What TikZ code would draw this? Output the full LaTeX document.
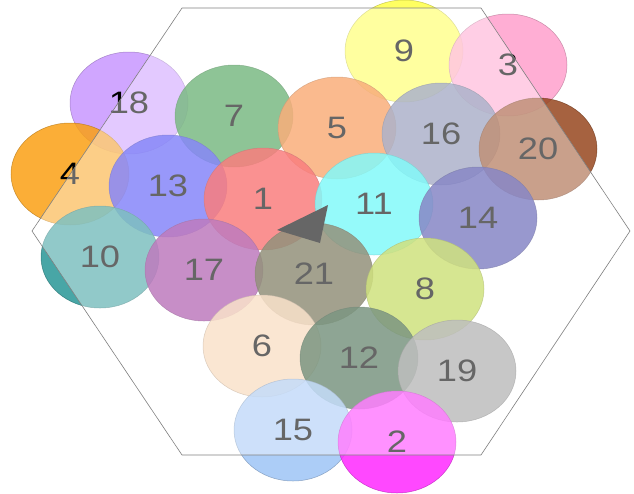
\documentclass[tikz,border=0pt]{standalone}
\usepackage{fontspec}
\setmainfont{Liberation Sans}
\usetikzlibrary{shapes.geometric}

\definecolor{col1}{RGB}{246,40,40}
\definecolor{col2}{RGB}{255,40,255}
\definecolor{col3}{RGB}{255,160,205}
\definecolor{col4}{RGB}{250,160,20}
\definecolor{col5}{RGB}{245,120,35}
\definecolor{col6}{RGB}{246,206,167}
\definecolor{col7}{RGB}{35,140,50}
\definecolor{col8}{RGB}{176,206,40}
\definecolor{col9}{RGB}{255,255,69}
\definecolor{col10}{RGB}{40,150,150}
\definecolor{col11}{RGB}{49,246,246}
\definecolor{col12}{RGB}{35,80,45}
\definecolor{col13}{RGB}{55,55,245}
\definecolor{col14}{RGB}{55,55,160}
\definecolor{col15}{RGB}{157,196,246}
\definecolor{col16}{RGB}{118,128,167}
\definecolor{col17}{RGB}{147,35,147}
\definecolor{col18}{RGB}{200,150,255}
\definecolor{col19}{RGB}{147,147,147}
\definecolor{col20}{RGB}{150,70,30}
\definecolor{col21}{RGB}{75,72,35}

\newcommand{\widenum}[1]{\scalebox{1.17}[1]{#1}}

\begin{document}
\begin{tikzpicture}[x=1pt,y=-1pt,
  blob/.style={ellipse, minimum width=118pt, minimum height=102pt, inner sep=0pt,
    fill=#1, fill opacity=0.85, draw=#1!70!black, draw opacity=0.7, line width=0.5pt,
    text opacity=1, font=\fontsize{31}{36}\selectfont},
  hexa/.style={fill=white, fill opacity=0.4, draw=gray, line width=0.6pt}]
\useasboundingbox (0,0) rectangle (634,493);

% the discs
\foreach \n/\x/\y in {9/404/51, 3/508/65, 18/129/103, 7/234/116, 5/337/128,
  16/441/134, 20/538/149, 4/70/174, 13/168/186, 1/263/199, 11/374/204,
  14/478/218, 10/100/257, 17/204/270, 21/314/274, 8/425/289, 6/262/346,
  12/359/358, 19/457/371, 15/293/430, 2/397/442} {
  \node[blob=col\n] (c\n) at (\x,\y) {\widenum{\n}};
}

% pointer
\coordinate (t1) at (277,230);
\coordinate (t2) at (328,205);
\coordinate (t3) at (320,243);
\fill[black] (t1) -- (t2) -- (t3) -- cycle;

% hexagon veil
\draw[hexa] (182,8) -- (481,8) -- (630,231) -- (481,455) -- (182,455) -- (32,231) -- cycle;
\end{tikzpicture}
\end{document}
